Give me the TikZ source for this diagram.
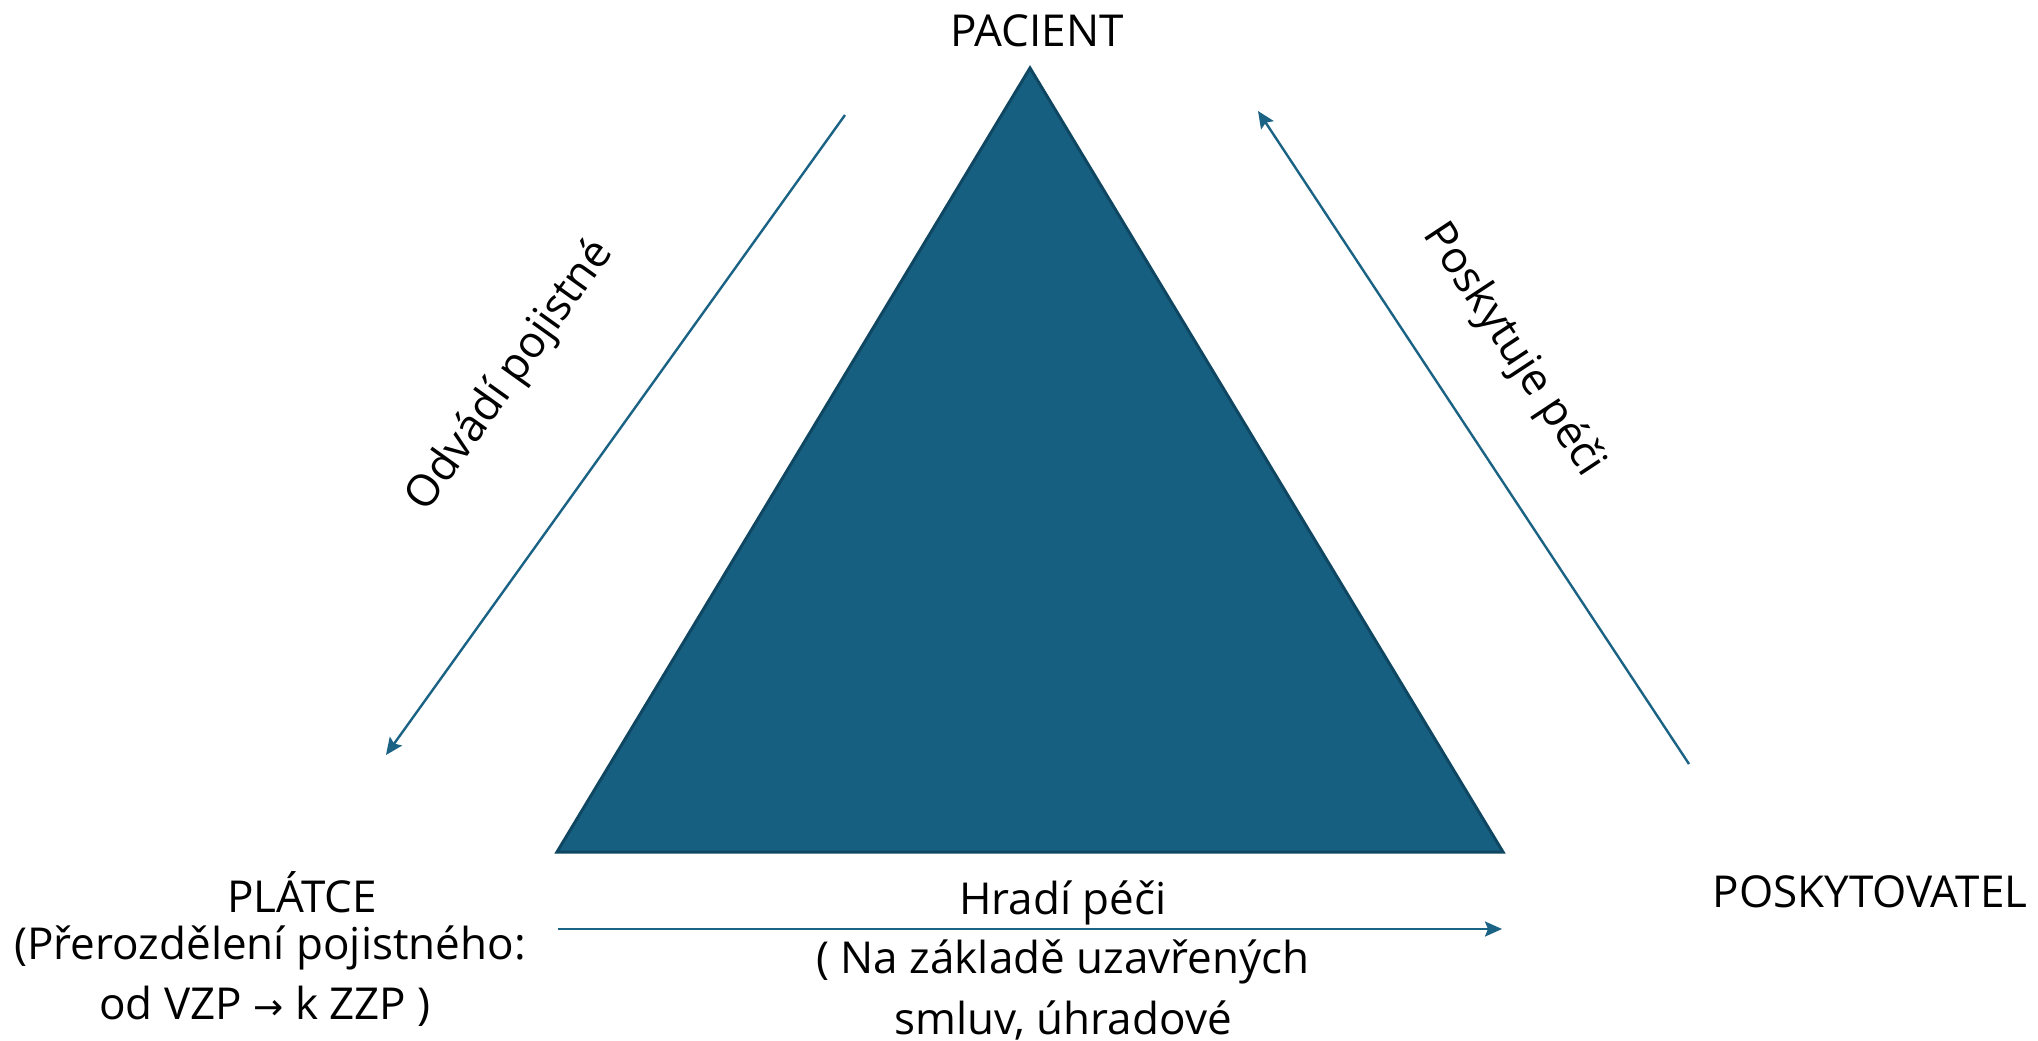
\documentclass[tikz,border=0pt]{standalone}
\usepackage{fontspec}
\setmainfont{Open Sans}
\newfontfamily\symfont{DejaVu Sans}
\usetikzlibrary{arrows.meta}
\definecolor{trifill}{HTML}{175F80}
\definecolor{triedge}{HTML}{0F4763}
\definecolor{arr}{HTML}{1A6384}
\begin{document}
\begin{tikzpicture}[x=1pt,y=-1pt,
  lbl/.style={font=\fontsize{44}{57}\selectfont, inner sep=0pt, align=center, text=black},
  flow/.style={draw=arr, line width=2.4pt, -{Stealth[length=17pt,width=15pt,inset=3pt]}}]
\useasboundingbox (0,0) rectangle (2038,1041);
\fill[white] (0,0) rectangle (2038,1041);
% triangle
\coordinate (apex) at (1030,68);
\coordinate (bl) at (557,852);
\coordinate (br) at (1503,852);
\filldraw[fill=trifill, draw=triedge, line width=3pt, line join=miter] (apex) -- (bl) -- (br) -- cycle;
% arrows
\coordinate (a1s) at (845,115);
\coordinate (a1e) at (386,755);
\coordinate (a2s) at (1689,764);
\coordinate (a2e) at (1258,111);
\coordinate (a3s) at (558,929);
\coordinate (a3e) at (1502,929);
\draw[flow] (a1s) -- (a1e);
\draw[flow] (a2s) -- (a2e);
\draw[flow] (a3s) -- (a3e);
% labels
\node[lbl] (pac) at (1037,31) {PACIENT};
\node[lbl, rotate=54.4] (odv) at (511,376) {Odvádí pojistné};
\node[lbl, rotate=-56.6] (posk) at (1513,350) {Poskytuje péči};
\node[lbl] (plat) at (302,892) {PLÁTCE};
\node[lbl] (prer) at (270,948) {(Přerozdělení pojistného:};
\node[lbl] (vzp) at (265,1006) {od VZP {\symfont\fontsize{36}{38}\selectfont →} k ZZP )};
\node[lbl] (poskyt) at (1870,892) {POSKYTOVATEL};
\node[lbl] (hradi) at (1063,903) {Hradí péči};
\node[lbl] (nazakl) at (1063,962) {( Na základě uzavřených};
\node[lbl] (smluv) at (1063,1020) {smluv, úhradové};
\end{tikzpicture}
\end{document}
